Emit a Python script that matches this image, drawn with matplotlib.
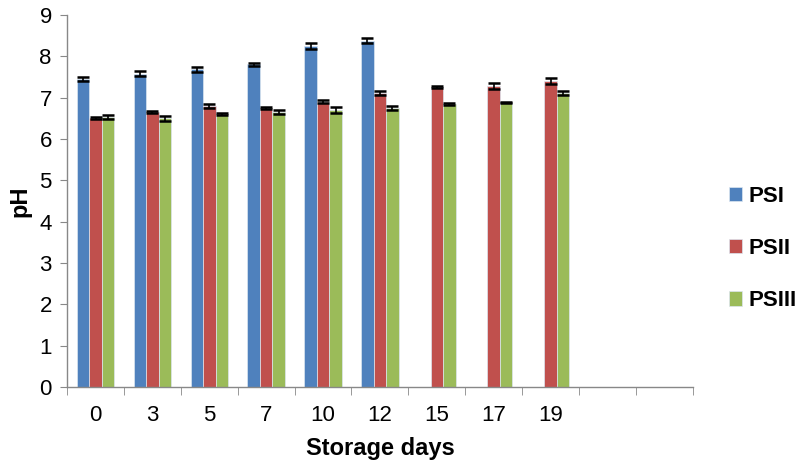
import matplotlib
matplotlib.use("Agg")
import matplotlib.pyplot as plt
import numpy as np

days = ["0", "3", "5", "7", "10", "12", "15", "17", "19", "", ""]
psi = [7.45, 7.58, 7.68, 7.80, 8.25, 8.38, np.nan, np.nan, np.nan, np.nan, np.nan]
psii = [6.50, 6.65, 6.80, 6.75, 6.90, 7.10, 7.25, 7.28, 7.40, np.nan, np.nan]
psiii = [6.52, 6.50, 6.60, 6.65, 6.70, 6.75, 6.85, 6.88, 7.10, np.nan, np.nan]
psi_err = [0.05, 0.06, 0.05, 0.03, 0.07, 0.07, 0, 0, 0]
psii_err = [0.02, 0.03, 0.05, 0.02, 0.04, 0.05, 0.02, 0.08, 0.07]
psiii_err = [0.05, 0.06, 0.02, 0.04, 0.08, 0.04, 0.02, 0.02, 0.05]
series_names = ["PSI", "PSII", "PSIII"]
colors = ["#4F81BD", "#C0504D", "#9BBB59"]

plt.rcParams['font.family'] = ['Liberation Sans', 'DejaVu Sans']
fig = plt.figure(figsize=(7.99, 4.65), dpi=100)
ax = fig.add_axes([0.084, 0.168, 0.783, 0.800])

x = np.arange(len(days))
w = 0.22
data = [psi, psii, psiii]
errs = [psi_err, psii_err, psiii_err]
for k, (vals, err, c, name) in enumerate(zip(data, errs, colors, series_names)):
    pos = x + (k - 1) * w
    v = np.array(vals, dtype=float)
    e = np.array(err + [np.nan] * (len(days) - len(err)), dtype=float)
    ax.bar(pos, v, width=w, color=c, edgecolor='#dce6f0', linewidth=0.5, label=name, zorder=2)
    mask = ~np.isnan(v)
    ax.errorbar(pos[mask], v[mask], yerr=e[mask], fmt='none', ecolor='black',
                elinewidth=1.2, capsize=4, capthick=1.8, zorder=3)

ax.set_xlim(-0.5, len(days) - 0.5)
ax.set_ylim(0, 9)
ax.set_yticks(range(0, 10))
ax.tick_params(axis='y', labelsize=16, length=5, color='#888888', direction='out', pad=6)
ax.set_xticks(x)
ax.set_xticklabels(days, fontsize=16)
ax.tick_params(axis='x', length=0, pad=13)
ax.set_xticks(np.arange(-0.5, len(days), 1.0), minor=True)
ax.tick_params(axis='x', which='minor', length=6, color='#888888', direction='out')
for s in ['top', 'right']:
    ax.spines[s].set_visible(False)
for s in ['left', 'bottom']:
    ax.spines[s].set_color('#888888')
    ax.spines[s].set_linewidth(1.0)

ax.set_xlabel("Storage days", fontsize=17, fontweight='bold', labelpad=8)
ax.set_ylabel("pH", fontsize=17, fontweight='bold', labelpad=6)

leg = fig.legend(loc='center left', bbox_to_anchor=(0.912, 0.465), frameon=False,
                 prop={'size': 16, 'weight': 'bold'}, handlelength=0.6, handleheight=0.6,
                 handletextpad=0.3, labelspacing=1.4, borderpad=0, borderaxespad=0)

fig.savefig("out.png", dpi=100)
